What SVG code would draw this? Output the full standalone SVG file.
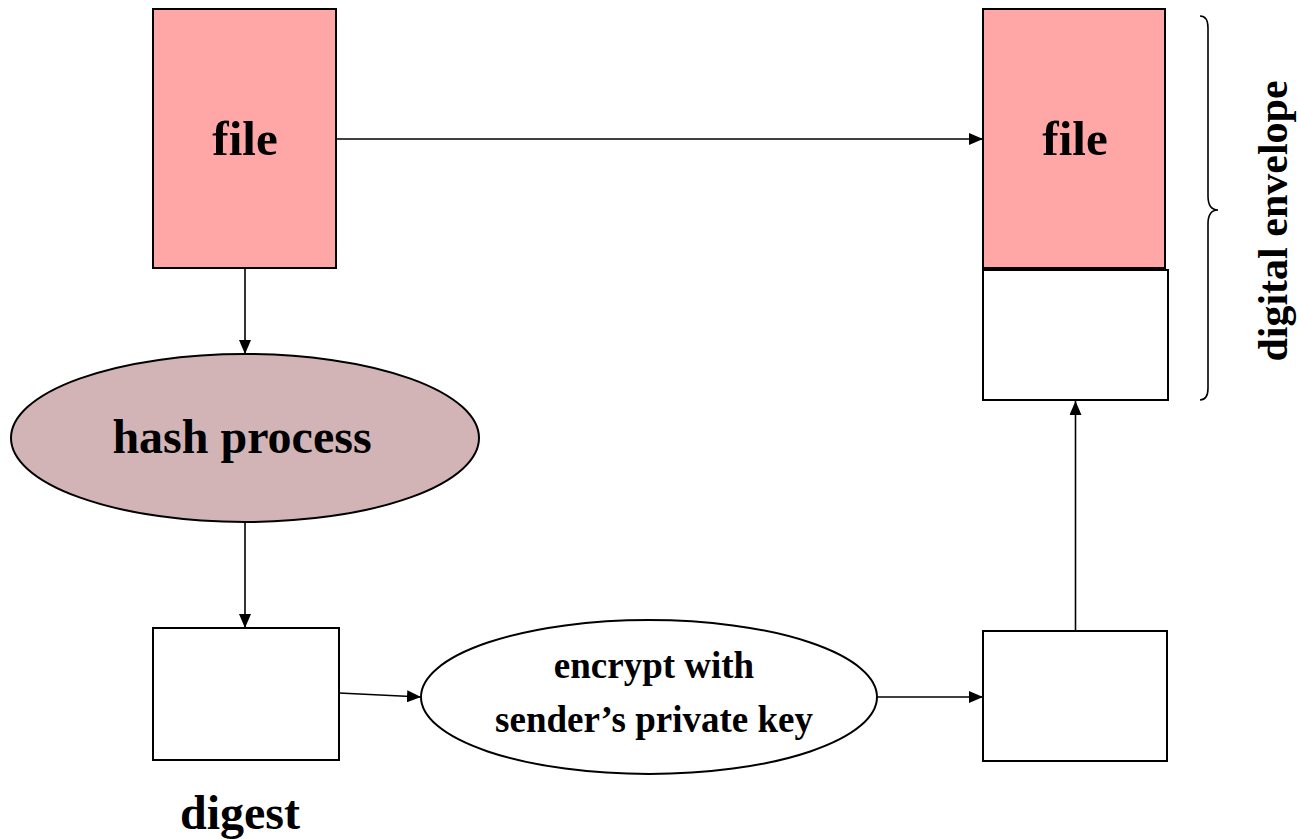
<svg xmlns="http://www.w3.org/2000/svg" width="1297" height="839" viewBox="0 0 1297 839">
<style>
.box{stroke:#000;stroke-width:2}
.pink{fill:#FFA6A6}
.white{fill:#FFFFFF}
.lbl{font-family:"Liberation Serif","Times New Roman",serif;font-weight:bold;fill:#000;text-anchor:middle}
.conn{stroke:#000;stroke-width:1.6;fill:none;marker-end:url(#ah)}
</style>
<defs>
<marker id="ah" viewBox="0 0 14 12" refX="14" refY="6" markerWidth="14" markerHeight="12" markerUnits="userSpaceOnUse" orient="auto">
<path d="M0,0 L14,6 L0,12 Z" fill="#000"/>
</marker>
</defs>
<rect width="1297" height="839" fill="#fff"/>
<g id="connectors">
<line class="conn" x1="245" y1="268" x2="245" y2="354"/>
<line class="conn" x1="336" y1="139" x2="983" y2="139"/>
<line class="conn" x1="245" y1="522" x2="245" y2="628"/>
<line class="conn" x1="339" y1="693" x2="421" y2="697"/>
<line class="conn" x1="877" y1="697" x2="983" y2="697"/>
<line class="conn" x1="1075.5" y1="631" x2="1075.5" y2="401"/>
</g>
<g id="file-left">
<rect class="box pink" x="153" y="9" width="183" height="259"/>
<text class="lbl" x="245" y="155" font-size="49">file</text>
</g>
<g id="hash-process">
<ellipse cx="245" cy="438" rx="234" ry="84" fill="#D2B4B6" stroke="#000" stroke-width="2"/>
<text class="lbl" x="242" y="453" font-size="48">hash process</text>
</g>
<g id="digest">
<rect class="box white" x="153" y="628" width="186" height="132"/>
<text class="lbl" x="240" y="829" font-size="48">digest</text>
</g>
<g id="encrypt">
<ellipse cx="649" cy="697" rx="228" ry="77" fill="#fff" stroke="#000" stroke-width="2"/>
<text class="lbl" x="654" y="678" font-size="37">encrypt with</text>
<text class="lbl" x="654" y="732" font-size="37">sender’s private key</text>
</g>
<g id="signed-digest">
<rect class="box white" x="983" y="631" width="184" height="130"/>
</g>
<g id="envelope-file">
<rect class="box pink" x="983" y="9" width="182" height="259"/>
<text class="lbl" x="1075" y="155" font-size="49">file</text>
</g>
<g id="envelope-signature">
<rect class="box white" x="983" y="270" width="185" height="130"/>
</g>
<g id="envelope-brace">
<path d="M1200,16 Q1208,16 1208,28 L1208,196 Q1208,210 1218,210 Q1208,210 1208,224 L1208,388 Q1208,400 1200,400" fill="none" stroke="#000" stroke-width="1.6"/>
<text class="lbl" transform="translate(1287,221) rotate(-90)" font-size="42">digital envelope</text>
</g>
</svg>
